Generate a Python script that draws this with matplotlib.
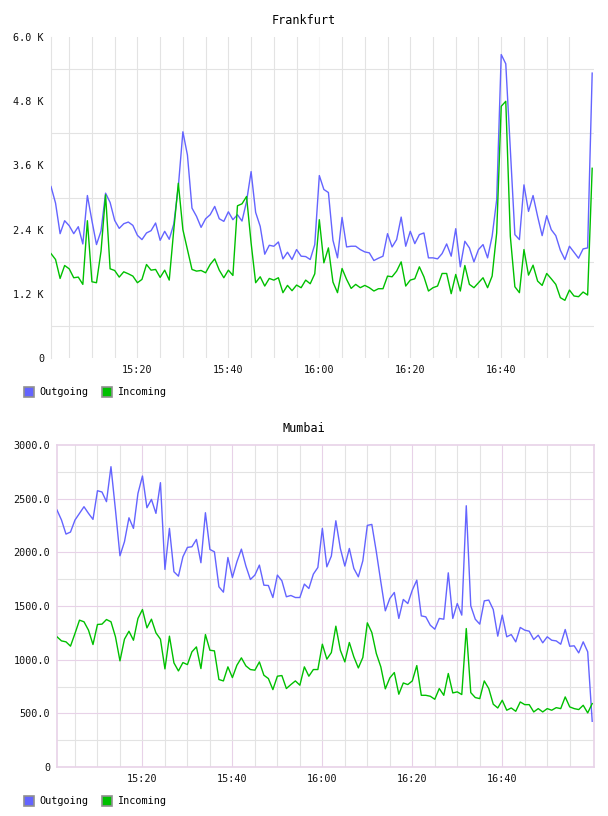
"""
Frankfurt / Mumbai traffic, graphite style
"""

import matplotlib

matplotlib.use("Agg")
import matplotlib.pyplot as plt
from matplotlib.patches import Rectangle
import numpy as np

# minutes after 15:00, one point per minute
minutes = np.arange(1, 121)

fra_outgoing = [
    3205, 2895, 2324, 2566, 2473, 2324, 2454, 2132, 3037, 2566,
    2120, 2374, 3081, 2907, 2572, 2423, 2510, 2541, 2479, 2293,
    2213, 2337, 2380, 2523, 2200, 2368, 2219, 2504, 3205, 4228,
    3794, 2802, 2647, 2442, 2603, 2678, 2833, 2603, 2554, 2733,
    2585, 2678, 2560, 2926, 3484, 2721, 2461, 1940, 2107, 2089,
    2169, 1853, 1977, 1841, 2027, 1903, 1896, 1841, 2120, 3410,
    3150, 3093, 2200, 1872, 2628, 2076, 2089, 2089, 2027, 1983,
    1965, 1822, 1865, 1903, 2324, 2076, 2213, 2634, 2089, 2368,
    2138, 2306, 2337, 1872, 1872, 1853, 1952, 2132, 1903, 2417,
    1704, 2182, 2058, 1797, 2027, 2120, 1872, 2275, 2957, 5672,
    5499, 3900, 2306, 2213, 3236, 2740, 3037, 2647, 2287, 2659,
    2399, 2287, 2014, 1841, 2089, 1977, 1865, 2039, 2058, 5325,
]
fra_incoming = [
    1952, 1841, 1487, 1729, 1667, 1500, 1512, 1376, 2566, 1425,
    1407, 1996, 3050, 1667, 1636, 1512, 1611, 1574, 1531, 1407,
    1469, 1748, 1642, 1655, 1506, 1642, 1456, 2400, 3267, 2399,
    2027, 1655, 1624, 1636, 1593, 1748, 1853, 1642, 1500, 1642,
    1543, 2845, 2882, 3019, 2151, 1407, 1518, 1345, 1487, 1456,
    1500, 1221, 1357, 1258, 1363, 1314, 1456, 1388, 1574, 2585,
    1779, 2058, 1419, 1221, 1673, 1469, 1301, 1376, 1314, 1357,
    1314, 1252, 1295, 1295, 1531, 1518, 1624, 1797, 1345, 1456,
    1481, 1704, 1518, 1252, 1314, 1345, 1580, 1580, 1202, 1562,
    1252, 1729, 1376, 1314, 1407, 1500, 1314, 1531, 2337, 4705,
    4798, 2275, 1332, 1221, 2027, 1549, 1735, 1438, 1357, 1580,
    1481, 1376, 1128, 1078, 1270, 1159, 1146, 1233, 1177, 3546,
]

bom_outgoing = [
    2394, 2301, 2170, 2189, 2301, 2363, 2425, 2363, 2307, 2574,
    2562, 2472, 2798, 2394, 1968, 2099, 2322, 2223, 2549, 2711,
    2416, 2493, 2363, 2649, 1841, 2223, 1819, 1778, 1959, 2046,
    2052, 2120, 1903, 2369, 2027, 2005, 1679, 1629, 1952, 1766,
    1912, 2030, 1872, 1747, 1788, 1881, 1694, 1691, 1579, 1788,
    1735, 1586, 1598, 1579, 1579, 1704, 1663, 1797, 1859, 2223,
    1865, 1965, 2294, 2036, 1872, 2036, 1850, 1772, 1921, 2251,
    2260, 2005, 1725, 1455, 1570, 1626, 1384, 1561, 1523, 1648,
    1741, 1408, 1399, 1321, 1284, 1384, 1377, 1809, 1384, 1523,
    1415, 2434, 1502, 1377, 1331, 1548, 1555, 1467, 1219, 1415,
    1213, 1234, 1166, 1300, 1275, 1265, 1188, 1228, 1157, 1213,
    1181, 1175, 1144, 1281, 1125, 1129, 1063, 1166, 1073, 426,
]
bom_incoming = [
    1213, 1175, 1166, 1126, 1244, 1368, 1353, 1275, 1141, 1328,
    1331, 1374, 1353, 1213, 989, 1191, 1265, 1181, 1384, 1467,
    1296, 1377, 1250, 1191, 914, 1219, 970, 895, 973, 954,
    1073, 1119, 917, 1234, 1088, 1082, 815, 802, 933, 833,
    948, 1017, 942, 908, 902, 979, 855, 824, 721, 846,
    852, 731, 768, 802, 762, 933, 846, 908, 908, 1144,
    1005, 1066, 1312, 1088, 979, 1160, 1026, 923, 1020, 1343,
    1253, 1057, 933, 728, 830, 880, 678, 783, 768, 802,
    945, 668, 668, 659, 631, 731, 668, 871, 690, 700,
    675, 1290, 693, 647, 637, 802, 731, 585, 550, 622,
    529, 550, 519, 606, 581, 581, 513, 544, 513, 544,
    529, 553, 544, 653, 560, 544, 535, 575, 504, 591,
]

time_ticks = [20, 40, 60, 80, 100]
time_labels = ["15:20", "15:40", "16:00", "16:20", "16:40"]

fra_yticks = [0, 1200, 2400, 3600, 4800, 6000]
fra_ylabels = ["0", "1.2 K", "2.4 K", "3.6 K", "4.8 K", "6.0 K"]
bom_yticks = [0, 500, 1000, 1500, 2000, 2500, 3000]
bom_ylabels = ["0", "500.0", "1000.0", "1500.0", "2000.0", "2500.0", "3000.0"]

series_names = ["Outgoing", "Incoming"]
BLUE = "#6464ff"
GREEN = "#00c000"
MINOR = "#e3e3e3"
PINK = "#e8d2e8"
FONT = "DejaVu Sans Mono"

W, H = 608, 816
fig = plt.figure(figsize=(W / 100, H / 100), dpi=100)


def px_axes(left, top, right, bottom):
    return fig.add_axes(
        [left / W, 1 - bottom / H, (right - left) / W, (bottom - top) / H]
    )


def style_ticks(ax, yticks, ylabels):
    ax.set_xlim(1, 120.4)
    ax.set_ylim(yticks[0], yticks[-1])
    ax.set_xticks(time_ticks)
    ax.set_xticklabels(time_labels, fontfamily=FONT, fontsize=7.3)
    ax.set_yticks(yticks)
    ax.set_yticklabels(ylabels, fontfamily=FONT, fontsize=7.3)
    ax.tick_params(axis="both", length=0, labelcolor="#111111")
    ax.tick_params(axis="y", pad=5)
    ax.tick_params(axis="x", pad=5)


def legend(y_top):
    x = 24
    for name, col in zip(series_names, [BLUE, GREEN]):
        fig.patches.append(
            Rectangle(
                (x / W, 1 - (y_top + 10) / H), 10 / W, 10 / H,
                transform=fig.transFigure, facecolor=col,
                edgecolor="#909090", linewidth=1.2,
            )
        )
        fig.text((x + 15) / W, 1 - (y_top + 5) / H, name, fontfamily=FONT,
                 fontsize=7.3, va="center", ha="left")
        x += 78


# Frankfurt
ax1 = px_axes(51, 37, 594, 358)
for m in range(5, 120, 5):
    ax1.axvline(m, color="#f5f5f5" if m % 60 == 0 else MINOR, lw=0.8, zorder=0)
for v in [600, 1800, 3000, 4200, 5400]:
    ax1.axhline(v, color=MINOR, lw=0.8, zorder=0)
ax1.plot(minutes, fra_outgoing, color=BLUE, lw=1.0, zorder=3)
ax1.plot(minutes, fra_incoming, color=GREEN, lw=1.0, zorder=3)
for s in ["top", "right", "bottom"]:
    ax1.spines[s].set_visible(False)
ax1.spines["left"].set_color(MINOR)
ax1.spines["left"].set_linewidth(0.8)
style_ticks(ax1, fra_yticks, fra_ylabels)
fig.text(304 / W, 1 - 20 / H, "Frankfurt", fontfamily=FONT, fontsize=8.5,
         ha="center", va="center")
legend(387)

# Mumbai
ax2 = px_axes(57, 445, 594, 767)
for m in range(5, 120, 5):
    ax2.axvline(m, color=PINK if m % 20 == 0 else MINOR, lw=0.8, zorder=0)
for v in range(250, 3000, 250):
    ax2.axhline(v, color=PINK if v % 500 == 0 else MINOR, lw=0.8, zorder=0)
ax2.plot(minutes, bom_outgoing, color=BLUE, lw=1.0, zorder=3)
ax2.plot(minutes, bom_incoming, color=GREEN, lw=1.0, zorder=3)
for s in ax2.spines.values():
    s.set_color(PINK)
    s.set_linewidth(1.2)
style_ticks(ax2, bom_yticks, bom_ylabels)
fig.text(304 / W, 1 - 429 / H, "Mumbai", fontfamily=FONT, fontsize=8.5,
         ha="center", va="center")
legend(796)

fig.savefig("out.png", dpi=100)
